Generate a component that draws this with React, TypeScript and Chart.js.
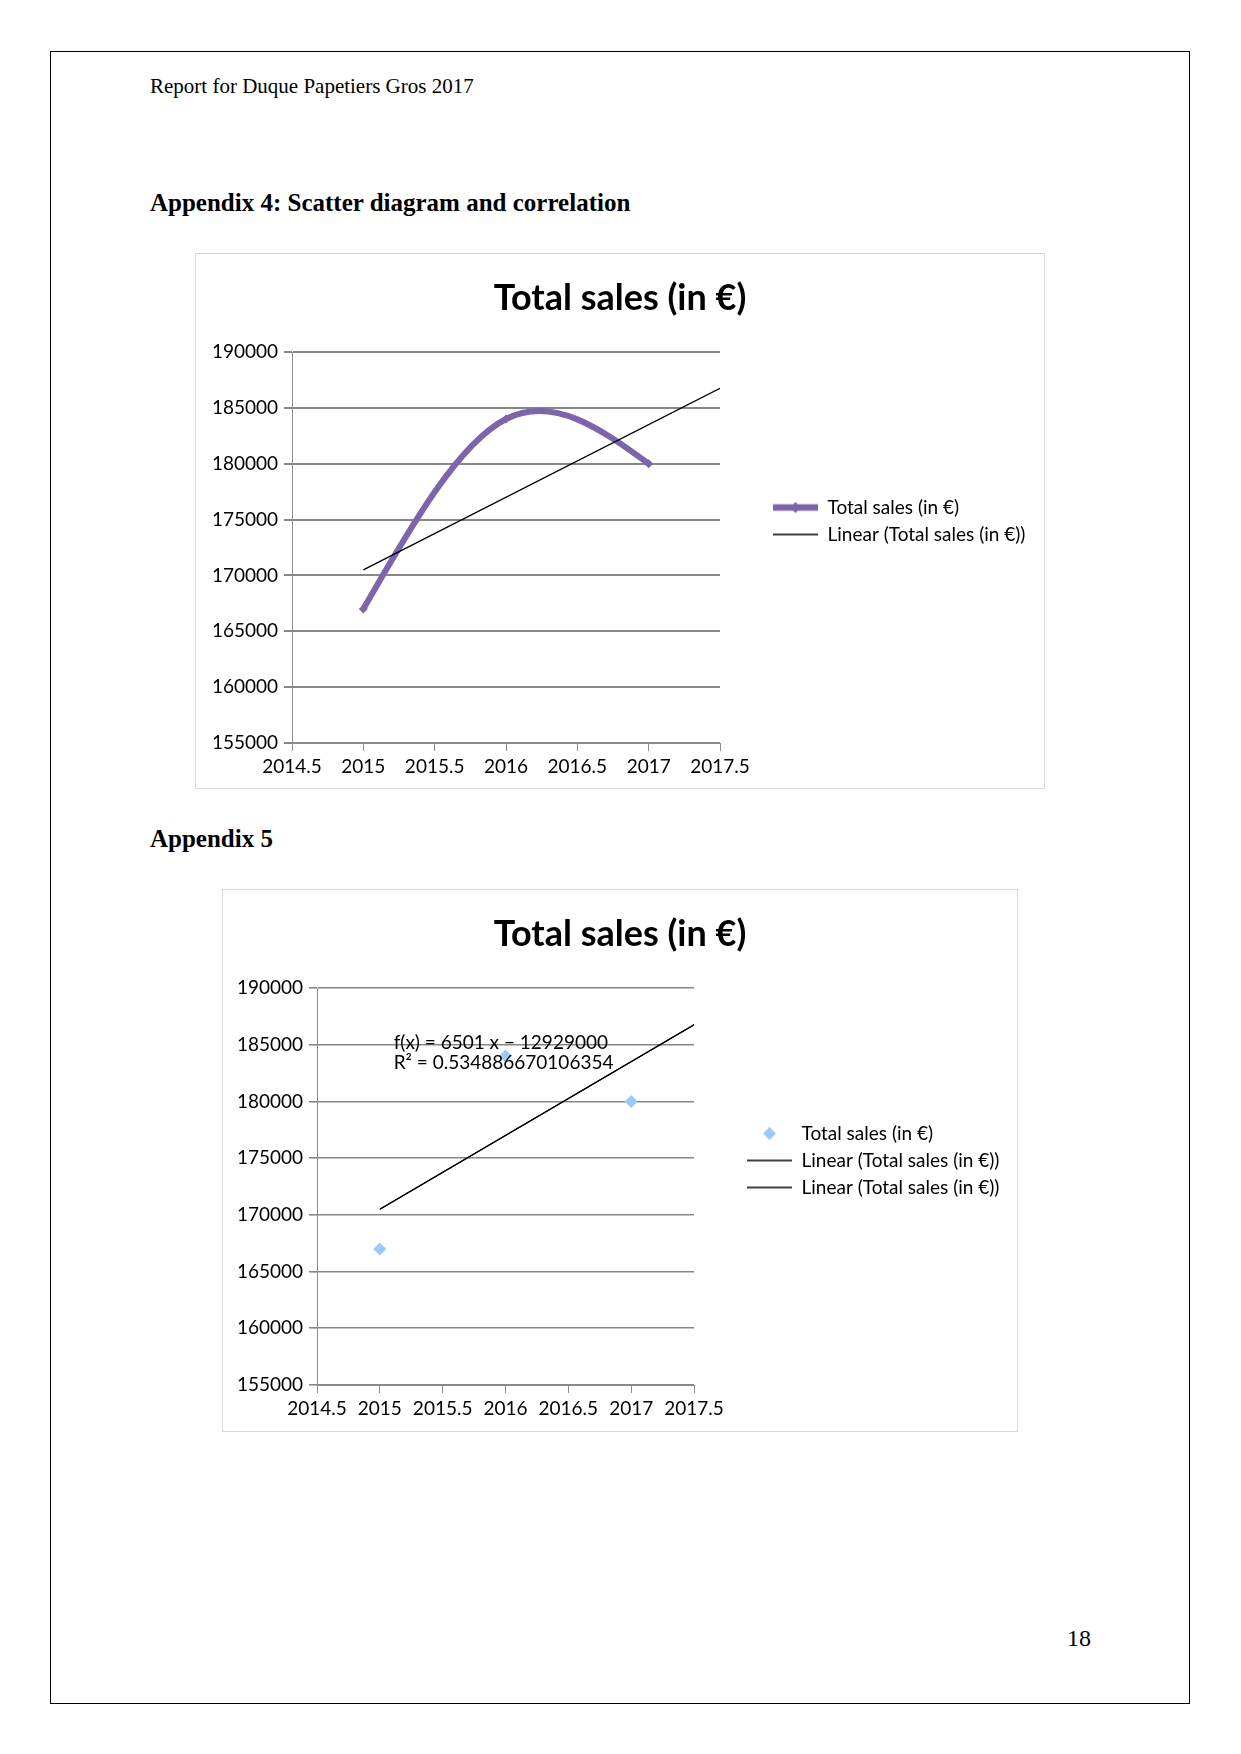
import React, { useEffect, useRef } from 'react';
import { Chart, registerables } from 'chart.js';

Chart.register(...registerables);

// ---------------- data ----------------
const years = [2015, 2016, 2017];
const totalSales = [167000, 184000, 180000];
const trendYears = [2015, 2017.5];
const trendSales = [170500, 186750];
const xTickValues = [2014.5, 2015, 2015.5, 2016, 2016.5, 2017, 2017.5];
const yTickValues = [155000, 160000, 165000, 170000, 175000, 180000, 185000, 190000];
const chartTitle = 'Total sales (in €)';
const seriesName = 'Total sales (in €)';
const trendName = 'Linear (Total sales (in €))';
const equationLines = ['f(x) = 6501 x − 12929000', 'R² = 0.534886670106354'];
const equationAnchor = { x: 2015.11, y: 185200 };

// ---------------- styles / layout ----------------
const FONT = 'Lato';
const TICK_FS = 19;
const LEGEND_FS = 19;
const TITLE_FS = 36;
const LEGEND_PAD = 8;
const LEGEND_BOX = 45;
const PURPLE = '#7D65AB';
const LIGHTBLUE = '#9CC9F7';
const GRID_GRAY = '#878787';
const AXIS_GRAY = '#8c8c8c';

type Layout = {
  left: number; top: number; W: number; H: number;
  plotL: number; plotR: number; plotT: number; plotB: number;
  titleY: number; legendX: number; grid: number;
};

const layout1: Layout = { left: 195, top: 253, W: 850, H: 536, plotL: 97, plotR: 525, plotT: 99, plotB: 490, titleY: 45, legendX: 578, grid: 2 };
const layout2: Layout = { left: 222, top: 889, W: 796, H: 543, plotL: 95, plotR: 472, plotT: 99, plotB: 496, titleY: 45, legendX: 525, grid: 1.6 };

function measureMax(texts: string[], font: string) {
  const c = document.createElement('canvas').getContext('2d')!;
  c.font = font;
  return Math.max(...texts.map((t) => c.measureText(t).width));
}

function diamond(g: CanvasRenderingContext2D, cx: number, cy: number, r: number, color: string) {
  g.beginPath();
  g.moveTo(cx, cy - r);
  g.lineTo(cx + r, cy);
  g.lineTo(cx, cy + r);
  g.lineTo(cx - r, cy);
  g.closePath();
  g.fillStyle = color;
  g.fill();
}

function glyph(kind: 'thick' | 'thin' | 'scatter') {
  const c = document.createElement('canvas');
  c.width = LEGEND_BOX;
  c.height = 16;
  const g = c.getContext('2d')!;
  const cy = 8;
  if (kind === 'thick') {
    g.strokeStyle = PURPLE;
    g.lineWidth = 6.5;
    g.beginPath(); g.moveTo(0, cy); g.lineTo(LEGEND_BOX, cy); g.stroke();
    diamond(g, LEGEND_BOX / 2, cy, 5.5, PURPLE);
  } else if (kind === 'thin') {
    g.strokeStyle = '#000';
    g.lineWidth = 1.6;
    g.beginPath(); g.moveTo(0, cy); g.lineTo(LEGEND_BOX, cy); g.stroke();
  } else {
    diamond(g, LEGEND_BOX / 2, cy, 6.5, LIGHTBLUE);
  }
  return c;
}

// Natural cubic spline smoothing (as the office suite draws "smoothed" lines),
// computed from the data points' pixel positions given by the chart's scales.
const naturalSplinePlugin = {
  id: 'naturalSpline',
  beforeDatasetDraw(chart: any, args: any) {
    const ds: any = chart.data.datasets[args.index];
    if (!ds || !ds.naturalSpline) return;
    const meta = args.meta;
    meta.dataset.updateControlPoints(chart.chartArea, 'x');
    const pts = meta.data;
    const n = pts.length;
    if (n < 2) return;
    const xs = pts.map((p: any) => p.x);
    const ys = pts.map((p: any) => p.y);
    const h: number[] = [];
    for (let i = 0; i < n - 1; i++) h[i] = xs[i + 1] - xs[i];
    const M = new Array(n).fill(0);
    if (n > 2) {
      const a: number[] = [], b: number[] = [], c: number[] = [], d: number[] = [];
      for (let i = 1; i < n - 1; i++) {
        a.push(h[i - 1]);
        b.push(2 * (h[i - 1] + h[i]));
        c.push(h[i]);
        d.push(6 * ((ys[i + 1] - ys[i]) / h[i] - (ys[i] - ys[i - 1]) / h[i - 1]));
      }
      const m = b.length;
      for (let i = 1; i < m; i++) {
        const w = a[i] / b[i - 1];
        b[i] -= w * c[i - 1];
        d[i] -= w * d[i - 1];
      }
      const sol = new Array(m);
      sol[m - 1] = d[m - 1] / b[m - 1];
      for (let i = m - 2; i >= 0; i--) sol[i] = (d[i] - c[i] * sol[i + 1]) / b[i];
      for (let i = 0; i < m; i++) M[i + 1] = sol[i];
    }
    const slope = (i: number) =>
      i < n - 1
        ? (ys[i + 1] - ys[i]) / h[i] - (h[i] * (2 * M[i] + M[i + 1])) / 6
        : (ys[i] - ys[i - 1]) / h[i - 1] + (h[i - 1] * (M[i - 1] + 2 * M[i])) / 6;
    for (let i = 0; i < n; i++) {
      const p = pts[i];
      const s = slope(i);
      if (i > 0) { p.cp1x = xs[i] - h[i - 1] / 3; p.cp1y = ys[i] - (s * h[i - 1]) / 3; }
      else { p.cp1x = xs[i]; p.cp1y = ys[i]; }
      if (i < n - 1) { p.cp2x = xs[i] + h[i] / 3; p.cp2y = ys[i] + (s * h[i]) / 3; }
      else { p.cp2x = xs[i]; p.cp2y = ys[i]; }
    }
  },
};

function makeConfig(L: Layout, datasets: any[], legendDefs: { text: string; glyph: HTMLCanvasElement }[], plugins: any[]) {
  const lfont = `${LEGEND_FS}px ${FONT}`;
  const textW = measureMax(legendDefs.map((d) => d.text), lfont);
  const legendW = LEGEND_PAD + LEGEND_BOX + LEGEND_FS / 2 + textW + 10;
  const side = L.W - legendW - (L.legendX - LEGEND_PAD);
  const titleLH = TITLE_FS * 1.2;
  const tickFont = { family: FONT, size: TICK_FS };
  return {
    type: 'line',
    data: { datasets },
    options: {
      animation: false,
      responsive: false,
      devicePixelRatio: 1,
      events: [],
      layout: { padding: { left: side, right: side, top: 0, bottom: 0 } },
      scales: {
        x: {
          type: 'linear',
          min: xTickValues[0],
          max: xTickValues[xTickValues.length - 1],
          afterBuildTicks: (s: any) => { s.ticks = xTickValues.map((v) => ({ value: v })); },
          afterFit: (s: any) => { s.height = L.H - L.plotB; },
          grid: { display: true, drawOnChartArea: false, drawTicks: true, tickLength: 8, color: AXIS_GRAY, lineWidth: 1 },
          border: { display: true, color: AXIS_GRAY, width: 1 },
          ticks: { color: '#000', font: tickFont, padding: 4, maxRotation: 0, autoSkip: false, callback: (v: any) => String(v) },
        },
        y: {
          type: 'linear',
          min: yTickValues[0],
          max: yTickValues[yTickValues.length - 1],
          afterBuildTicks: (s: any) => { s.ticks = yTickValues.map((v) => ({ value: v })); },
          afterFit: (s: any) => { s.width = L.plotL - side; },
          grid: { color: GRID_GRAY, lineWidth: L.grid, tickLength: 8, drawTicks: true },
          border: { display: true, color: AXIS_GRAY, width: 1 },
          ticks: { color: '#000', font: tickFont, padding: 6, callback: (v: any) => String(v) },
        },
        gap: {
          type: 'linear',
          position: 'right',
          display: true,
          grid: { display: false },
          border: { display: false },
          ticks: { display: false },
          afterFit: (s: any) => { s.width = L.legendX - LEGEND_PAD - L.plotR; },
        },
      },
      plugins: {
        title: {
          display: true,
          text: chartTitle,
          color: '#000',
          font: { family: FONT, size: TITLE_FS, weight: 'bold' },
          padding: { top: L.titleY - titleLH / 2, bottom: L.plotT - L.titleY - titleLH / 2 },
        },
        legend: {
          display: true,
          position: 'right',
          align: 'center',
          maxWidth: 2000,
          labels: {
            usePointStyle: true,
            pointStyleWidth: LEGEND_BOX,
            boxHeight: LEGEND_FS,
            padding: LEGEND_PAD,
            color: '#000',
            font: { family: FONT, size: LEGEND_FS },
            generateLabels: () =>
              legendDefs.map((d, i) => ({
                text: d.text,
                pointStyle: d.glyph,
                fillStyle: 'rgba(0,0,0,0)',
                strokeStyle: 'rgba(0,0,0,0)',
                lineWidth: 0,
                hidden: false,
                datasetIndex: i,
                fontColor: '#000',
              })),
          },
        },
        tooltip: { enabled: false },
      },
    },
    plugins,
  };
}

const equationPlugin = {
  id: 'equationLabel',
  afterDatasetsDraw(chart: any) {
    const { ctx, scales } = chart;
    const px = scales.x.getPixelForValue(equationAnchor.x);
    const py = scales.y.getPixelForValue(equationAnchor.y);
    ctx.save();
    ctx.font = `${TICK_FS}px ${FONT}`;
    ctx.fillStyle = '#000';
    ctx.textAlign = 'left';
    ctx.textBaseline = 'middle';
    equationLines.forEach((t, i) => ctx.fillText(t, px, py + i * 20));
    ctx.restore();
  },
};

function buildChart1() {
  const datasets = [
    {
      label: seriesName,
      data: years.map((x, i) => ({ x, y: totalSales[i] })),
      naturalSpline: true,
      borderColor: PURPLE,
      backgroundColor: PURPLE,
      borderWidth: 6,
      tension: 0.4,
      borderJoinStyle: 'round',
      pointStyle: 'rectRot',
      pointRadius: 4.5,
      pointBackgroundColor: PURPLE,
      pointBorderColor: PURPLE,
      pointBorderWidth: 0,
      fill: false,
      order: 2,
    },
    {
      label: trendName,
      data: trendYears.map((x, i) => ({ x, y: trendSales[i] })),
      borderColor: '#000',
      borderWidth: 1.3,
      pointRadius: 0,
      tension: 0,
      fill: false,
      order: 1,
    },
  ];
  return makeConfig(layout1, datasets, [
    { text: seriesName, glyph: glyph('thick') },
    { text: trendName, glyph: glyph('thin') },
  ], [naturalSplinePlugin]);
}

function buildChart2() {
  const trend = (label: string) => ({
    label,
    data: trendYears.map((x, i) => ({ x, y: trendSales[i] })),
    borderColor: '#000',
    borderWidth: 1.3,
    pointRadius: 0,
    tension: 0,
    fill: false,
    order: 1,
  });
  const datasets = [
    {
      label: seriesName,
      data: years.map((x, i) => ({ x, y: totalSales[i] })),
      showLine: false,
      pointStyle: 'rectRot',
      pointRadius: 6.5,
      pointBackgroundColor: LIGHTBLUE,
      pointBorderColor: LIGHTBLUE,
      pointBorderWidth: 0,
      borderColor: LIGHTBLUE,
      backgroundColor: LIGHTBLUE,
      order: 2,
    },
    trend(trendName),
    trend(trendName),
  ];
  return makeConfig(layout2, datasets, [
    { text: seriesName, glyph: glyph('scatter') },
    { text: trendName, glyph: glyph('thin') },
    { text: trendName, glyph: glyph('thin') },
  ], [equationPlugin]);
}

function ChartBox({ L, build }: { L: Layout; build: () => any }) {
  const ref = useRef<HTMLCanvasElement>(null);
  useEffect(() => {
    const chart = new Chart(ref.current!, build());
    return () => chart.destroy();
  }, []);
  return (
    <>
      <div style={{ position: 'absolute', left: L.left, top: L.top, width: L.W, height: L.H, border: '1px solid #d9d9d9', boxSizing: 'border-box' }} />
      <canvas ref={ref} width={L.W} height={L.H} style={{ position: 'absolute', left: L.left, top: L.top, width: L.W, height: L.H }} />
    </>
  );
}

const serif = '"Liberation Serif", "Times New Roman", serif';

export default function App() {
  return (
    <div style={{ position: 'absolute', left: 0, top: 0, width: 1241, height: 1754, background: '#fff', overflow: 'hidden' }}>
      <div style={{ position: 'absolute', left: 50, top: 51, width: 1140, height: 1653, border: '1px solid #000', boxSizing: 'border-box' }} />
      <div style={{ position: 'absolute', left: 150, top: 74, fontFamily: serif, fontSize: 21, lineHeight: '24px', color: '#000', whiteSpace: 'nowrap' }}>
        Report for Duque Papetiers Gros 2017
      </div>
      <div style={{ position: 'absolute', left: 150, top: 188, fontFamily: serif, fontSize: 25, fontWeight: 'bold', lineHeight: '30px', color: '#000', whiteSpace: 'nowrap' }}>
        Appendix 4: Scatter diagram and correlation
      </div>
      <ChartBox L={layout1} build={buildChart1} />
      <div style={{ position: 'absolute', left: 150, top: 824, fontFamily: serif, fontSize: 25, fontWeight: 'bold', lineHeight: '30px', color: '#000', whiteSpace: 'nowrap' }}>
        Appendix 5
      </div>
      <ChartBox L={layout2} build={buildChart2} />
      <div style={{ position: 'absolute', left: 1067, top: 1624, fontFamily: serif, fontSize: 24, lineHeight: '28px', color: '#000', whiteSpace: 'nowrap' }}>
        18
      </div>
    </div>
  );
}
